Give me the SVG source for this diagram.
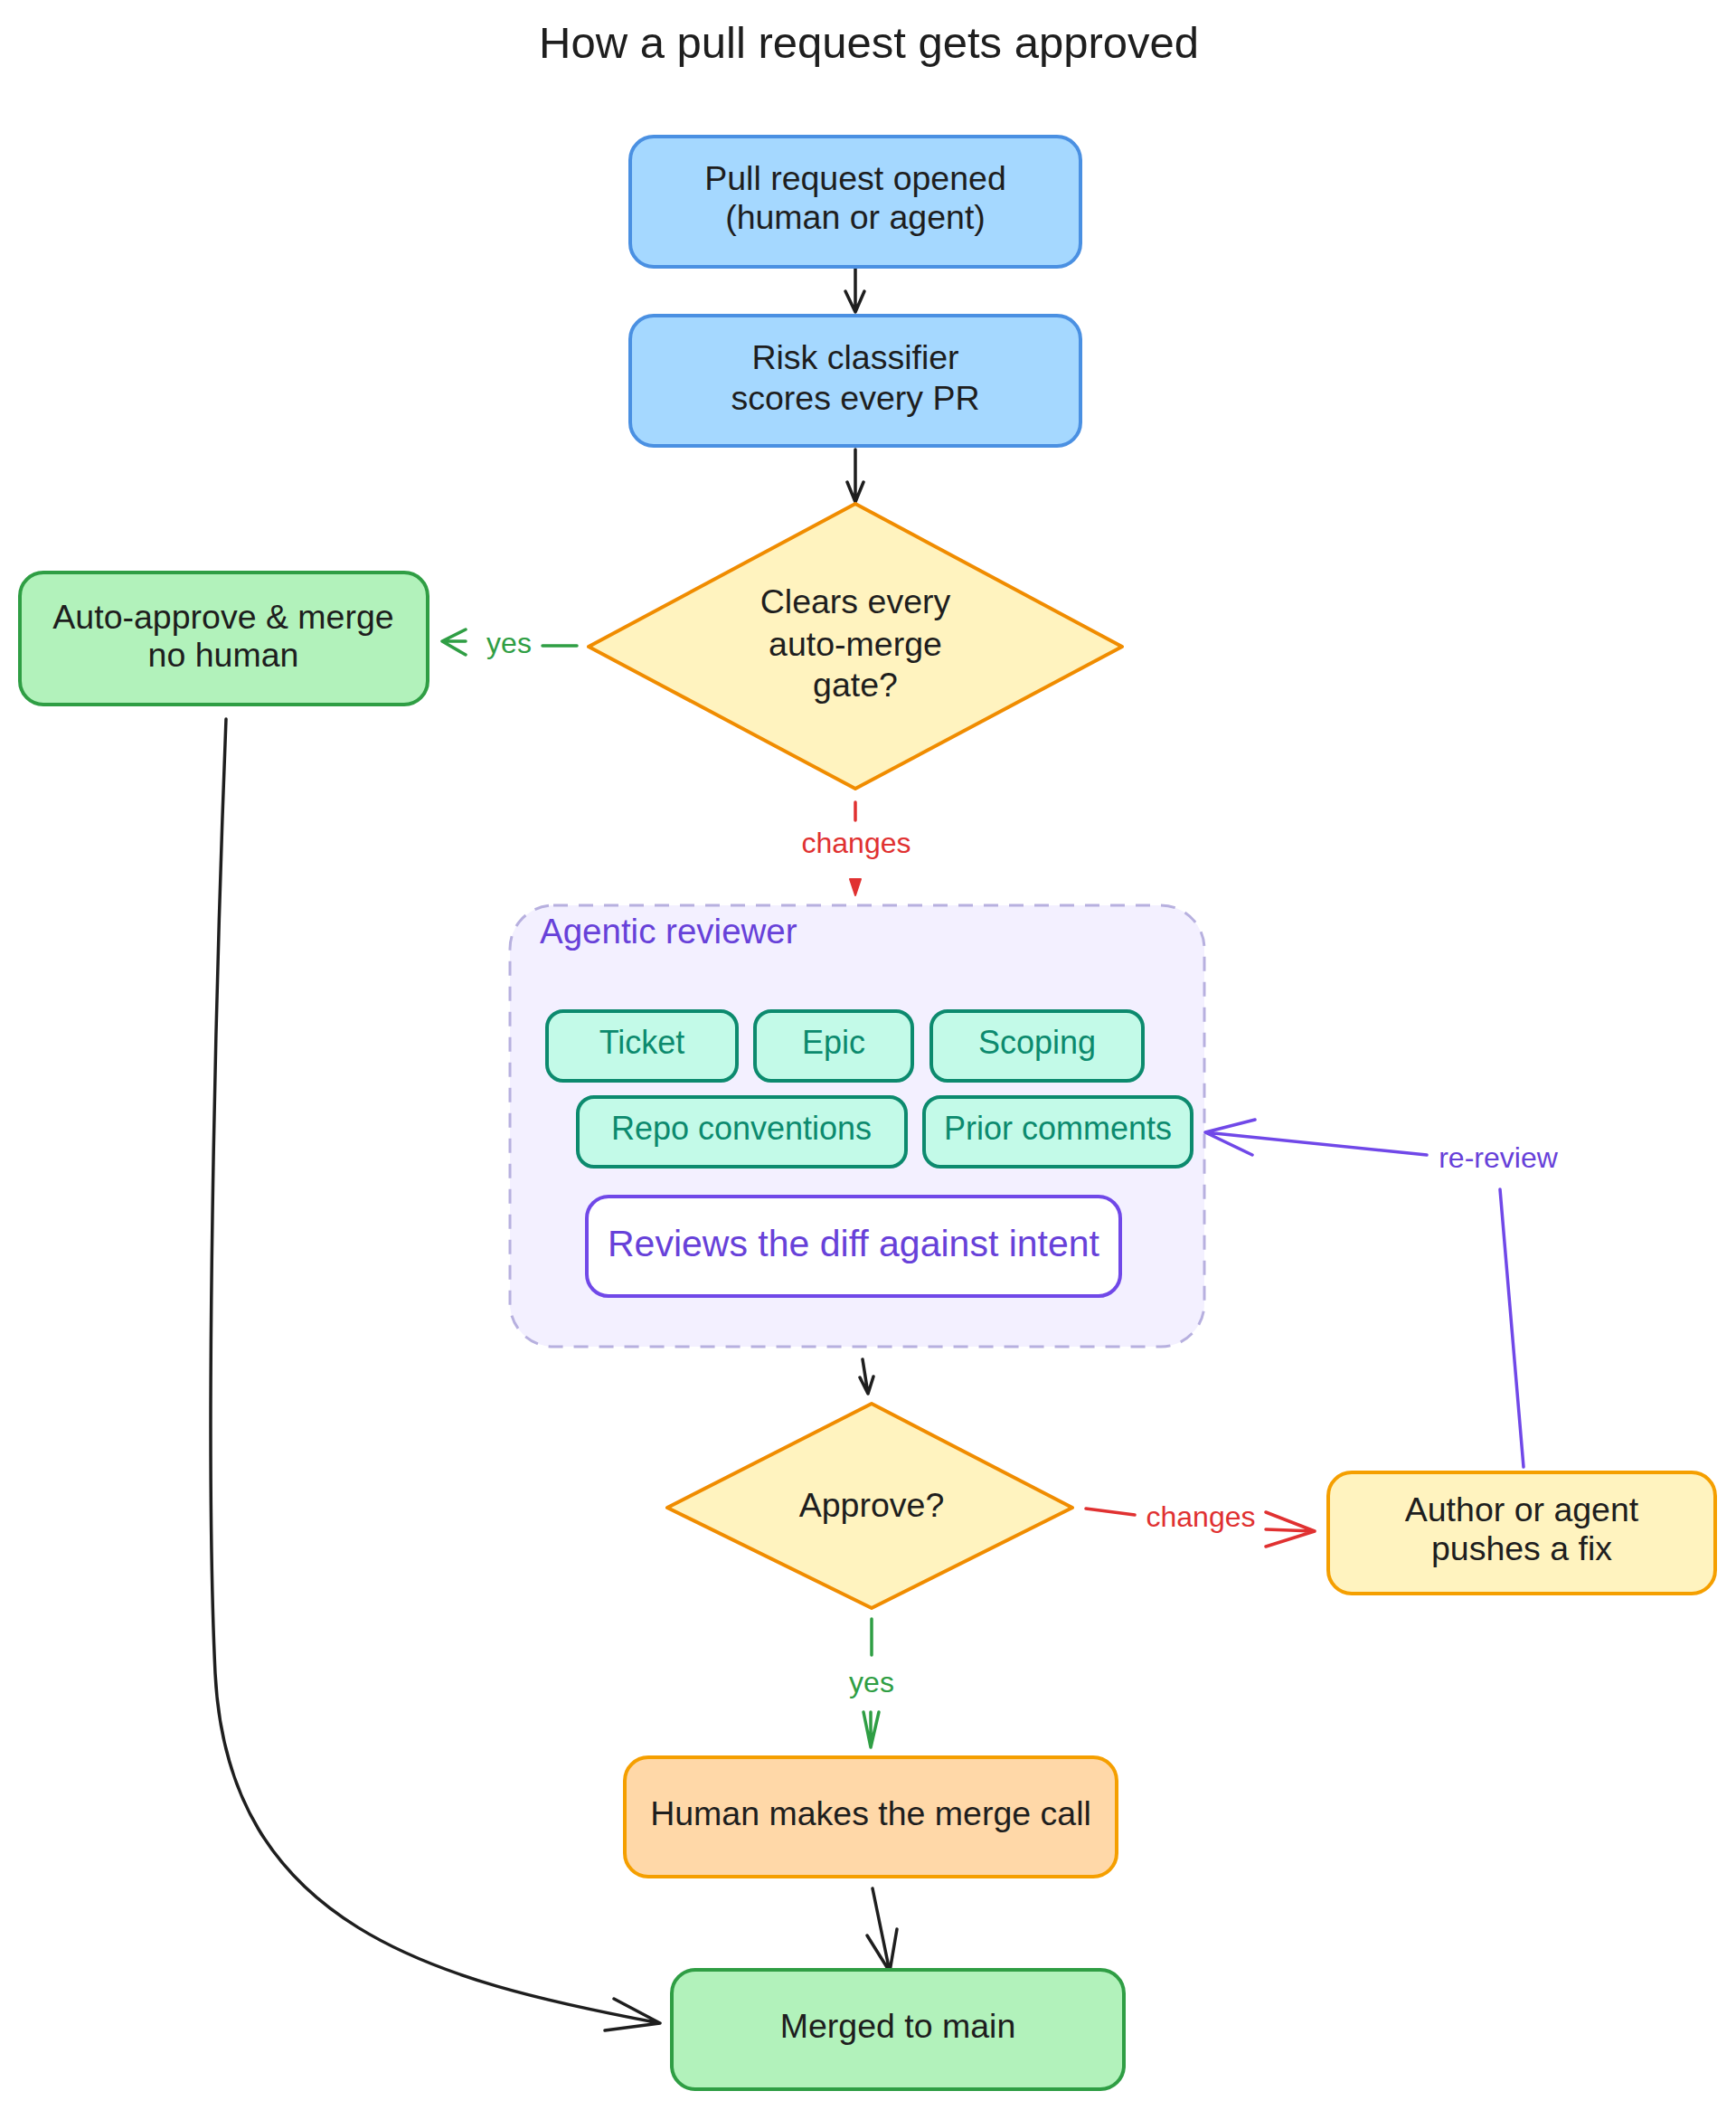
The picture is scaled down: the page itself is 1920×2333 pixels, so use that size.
<svg xmlns="http://www.w3.org/2000/svg" width="1920" height="2333" viewBox="0 0 1920 2333">
<style>
text{font-family:"Liberation Sans",Arial,sans-serif;font-size:37.5px;text-anchor:middle;fill:#1e1e1e}
.title{font-size:49px}
.lbl{font-size:32px}
.small{font-size:36px}
.blue{fill:#a5d8ff;stroke:#4a90e2;stroke-width:4}
.dia{fill:#fff3bf;stroke:#f08c00;stroke-width:4;stroke-linejoin:round}
.grn{fill:#b2f2bb;stroke:#2f9e44;stroke-width:4}
.org{fill:#ffd8a8;stroke:#f59f00;stroke-width:4}
.yel{fill:#fff3bf;stroke:#f59f00;stroke-width:4}
.teal{fill:#c3fae8;stroke:#0c8a6e;stroke-width:4}
.tealt{fill:#0c8a6e}
.vio{fill:#6741d9}
.grp{fill:#f3f0ff;stroke:#b7b0df;stroke-width:3;stroke-dasharray:16 12}
.rev{fill:#ffffff;stroke:#7048e8;stroke-width:4}
.k{fill:none;stroke:#1e1e1e;stroke-width:3.5;stroke-linecap:round;stroke-linejoin:round}
.r{fill:none;stroke:#e03131;stroke-width:3.5;stroke-linecap:round;stroke-linejoin:round}
.g{fill:none;stroke:#2f9e44;stroke-width:3.5;stroke-linecap:round;stroke-linejoin:round}
.v{fill:none;stroke:#7048e8;stroke-width:3.5;stroke-linecap:round;stroke-linejoin:round}
.rt{fill:#e03131}
.gt{fill:#2f9e44}
</style>
<rect width="1920" height="2333" fill="#ffffff"/>
<text class="title" x="961" y="64">How a pull request gets approved</text>

<g id="group-agentic">
<rect class="grp" x="564" y="1001" width="768" height="488" rx="48"/>
<text class="vio" x="597" y="1043" style="text-anchor:start;font-size:38.5px">Agentic reviewer</text>
</g>

<g id="connectors">
<path class="k" d="M946 297 L946 345 M935 322 L946 345 L956 322"/>
<path class="k" d="M946 497 L946 555 M937 533 L946 555 L955 533"/>
<path class="g" d="M600 714 L638 714 M515 696 L489 709 L515 724 M489 709 L515 709"/>
<text class="lbl gt" x="563" y="722">yes</text>
<path class="r" d="M946 887 L946 907"/>
<text class="lbl rt" x="947" y="943">changes</text>
<path d="M940 972 L952 972 L946 990 Z" fill="#e03131" stroke="#e03131" stroke-width="2" stroke-linejoin="round"/>
<path class="k" d="M954 1503 L960 1541 M951 1523 L960 1541 L966 1522"/>
<path class="r" d="M1201 1668 L1255 1675 M1400 1672 L1454 1693 L1400 1710 M1400 1691 L1454 1693"/>
<text class="lbl rt" x="1328" y="1688">changes</text>
<path class="g" d="M964 1790 L964 1830 M955 1893 L963 1932 L972 1893 M963 1893 L963 1932"/>
<text class="lbl gt" x="964" y="1871">yes</text>
<path class="k" d="M965 2088 L984 2180 M959 2140 L984 2180 L992 2133"/>
<path class="k" d="M250 795 C238 1100, 226 1600, 238 1850 C252 2130, 480 2190, 730 2237 M679 2210 L730 2237 L669 2245"/>
<path class="v" d="M1685 1622 L1659 1315 M1578 1277 L1333 1252 M1388 1238 L1333 1252 L1385 1277"/>
<text class="lbl vio" x="1657" y="1291">re-review</text>
</g>

<g id="n-opened">
<rect class="blue" x="697" y="151" width="498" height="144" rx="26"/>
<text x="946" y="210">Pull request opened</text>
<text x="946" y="253">(human or agent)</text>
</g>
<g id="n-risk">
<rect class="blue" x="697" y="349" width="498" height="144" rx="26"/>
<text x="946" y="408">Risk classifier</text>
<text x="946" y="453">scores every PR</text>
</g>
<g id="n-gate">
<path class="dia" d="M946 557 L1241 715 L946 872 L651 715 Z"/>
<text x="946" y="678">Clears every</text>
<text x="946" y="725">auto-merge</text>
<text x="946" y="770">gate?</text>
</g>
<g id="n-auto">
<rect class="grn" x="22" y="633" width="451" height="146" rx="26"/>
<text x="247" y="695">Auto-approve &amp; merge</text>
<text x="247" y="737">no human</text>
</g>
<g id="n-ticket">
<rect class="teal" x="605" y="1118" width="210" height="77" rx="18"/>
<text class="tealt small" x="710" y="1165">Ticket</text>
</g>
<g id="n-epic">
<rect class="teal" x="835" y="1118" width="174" height="77" rx="18"/>
<text class="tealt small" x="922" y="1165">Epic</text>
</g>
<g id="n-scoping">
<rect class="teal" x="1030" y="1118" width="234" height="77" rx="18"/>
<text class="tealt small" x="1147" y="1165">Scoping</text>
</g>
<g id="n-repo">
<rect class="teal" x="639" y="1213" width="363" height="77" rx="18"/>
<text class="tealt small" x="820" y="1260">Repo conventions</text>
</g>
<g id="n-prior">
<rect class="teal" x="1022" y="1213" width="296" height="77" rx="18"/>
<text class="tealt small" x="1170" y="1260">Prior comments</text>
</g>
<g id="n-reviews">
<rect class="rev" x="649" y="1323" width="590" height="110" rx="24"/>
<text class="vio" x="944" y="1389" style="font-size:41px">Reviews the diff against intent</text>
</g>
<g id="n-approve">
<path class="dia" d="M964 1552 L1186 1667 L964 1778 L738 1667 Z"/>
<text x="964" y="1677">Approve?</text>
</g>
<g id="n-author">
<rect class="yel" x="1469" y="1628" width="428" height="134" rx="26"/>
<text x="1683" y="1682">Author or agent</text>
<text x="1683" y="1725">pushes a fix</text>
</g>
<g id="n-human">
<rect class="org" x="691" y="1943" width="544" height="132" rx="26"/>
<text x="963" y="2018">Human makes the merge call</text>
</g>
<g id="n-merged">
<rect class="grn" x="743" y="2178" width="500" height="132" rx="26"/>
<text x="993" y="2253">Merged to main</text>
</g>
</svg>
